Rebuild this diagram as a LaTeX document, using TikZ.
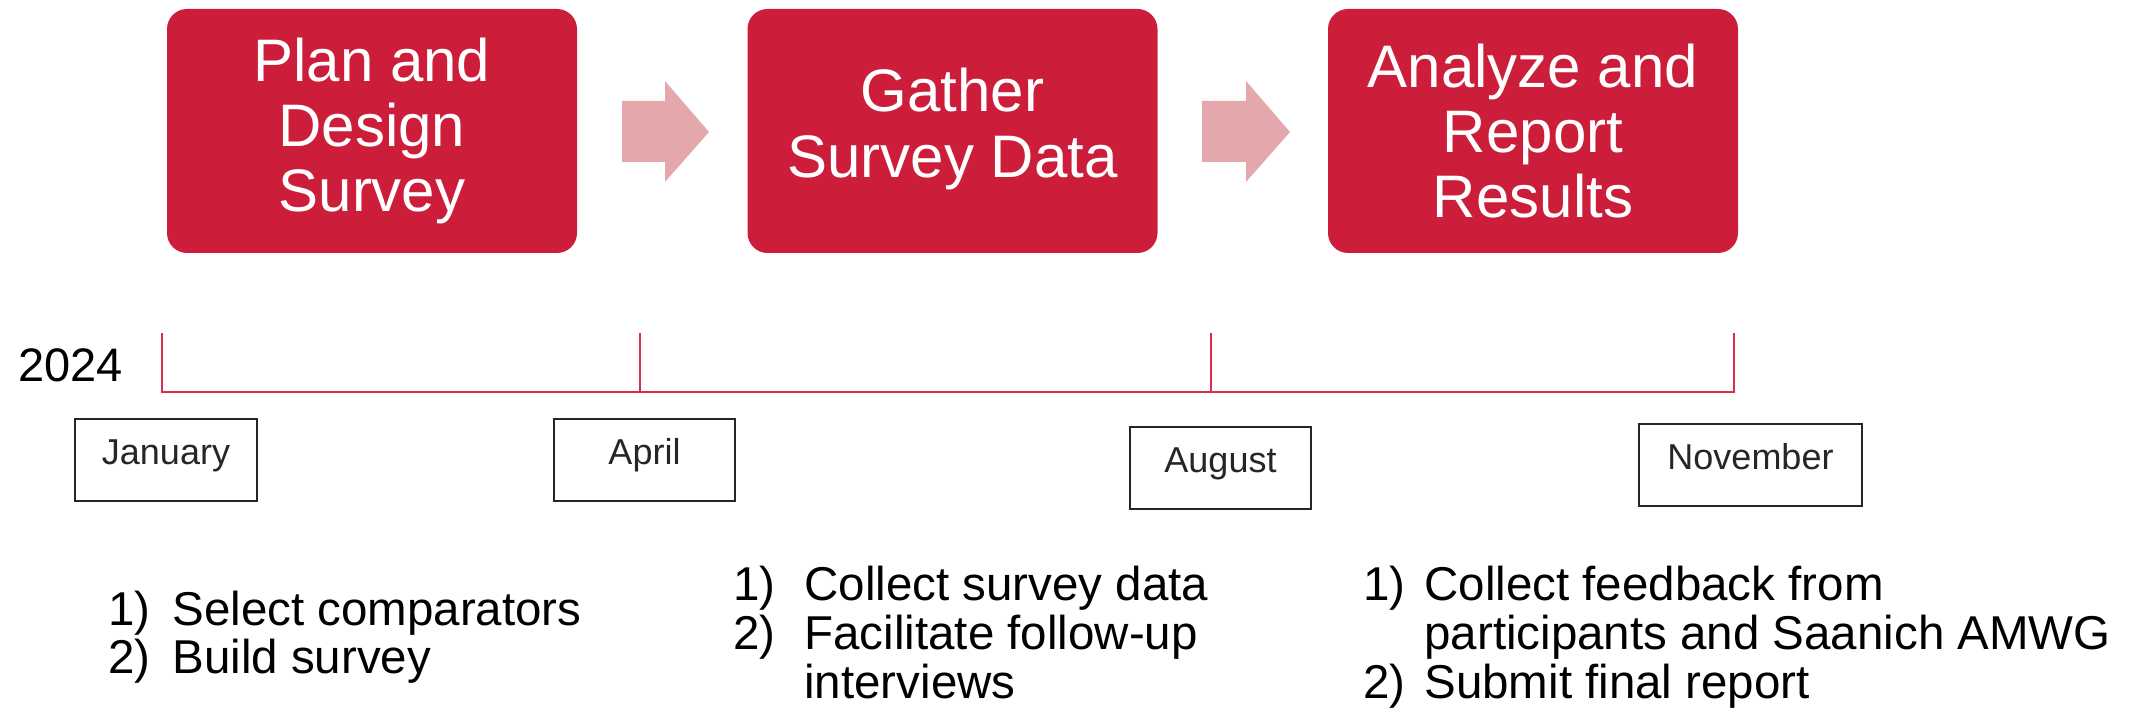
\documentclass[tikz,border=0pt]{standalone}
\usepackage{fontspec}
\setmainfont{Liberation Sans}
\definecolor{boxred}{RGB}{204,30,58}
\definecolor{arrowpink}{RGB}{228,168,172}
\definecolor{linered}{RGB}{222,45,75}
\begin{document}
\begin{tikzpicture}[x=0.5pt,y=-0.5pt,
  phase/.style={rectangle, rounded corners=10pt, fill=boxred, text=white,
    minimum width=205pt, minimum height=122pt, inner sep=0pt, align=center,
    font=\fontsize{30}{32.5}\selectfont},
  blockarrow/.style={fill=arrowpink},
  tline/.style={draw=linered, line width=1.2pt},
  monthbox/.style={draw=black!85, line width=1pt, inner sep=0pt, anchor=north west,
    text width=#1, align=center, text height=23pt, text depth=18pt,
    font=\fontsize{18}{20}\selectfont, text=black!85},
  listtext/.style={anchor=base west, inner sep=0pt, font=\fontsize{23.75}{28}\selectfont},
  yeartext/.style={anchor=base west, inner sep=0pt, font=\fontsize{23.5}{28}\selectfont}
]
\useasboundingbox (0,0) rectangle (2138,721);

% phase boxes
\node[phase] (b1) at (372,131) {Plan and\\Design\\Survey};
\node[phase, font=\fontsize{30}{33}\selectfont] (b2) at (952.5,131) {\raisebox{-3pt}{\begin{tabular}{@{}c@{}}Gather\\Survey Data\end{tabular}}};
\node[phase] (b3) at (1533,131) {Analyze and\\Report\\Results};

% block arrows
\fill[blockarrow] (622,101) -- (665,101) -- (665,81) -- (709,132) -- (665,182) -- (665,162) -- (622,162) -- cycle;
\fill[blockarrow] (1202,101) -- (1246,101) -- (1246,81) -- (1290,132) -- (1246,182) -- (1246,162) -- (1202,162) -- cycle;

% timeline
\coordinate (t1) at (162,392);
\coordinate (t2) at (640,392);
\coordinate (t3) at (1211,392);
\coordinate (t4) at (1734,392);
\coordinate (t1u) at (162,333);
\coordinate (t2u) at (640,333);
\coordinate (t3u) at (1211,333);
\coordinate (t4u) at (1734,333);
\draw[tline] (t1u) -- (t1) -- (t4) -- (t4u);
\draw[tline] (t2) -- (t2u);
\draw[tline] (t3) -- (t3u);

\node[yeartext] (year) at (18,382) {2024};

% month boxes
\node[monthbox=91pt] (jan) at (74,418) {January};
\node[monthbox=90.5pt] (apr) at (553,418) {April};
\node[monthbox=90.5pt] (aug) at (1129,426) {August};
\node[monthbox=111.5pt] (nov) at (1638,423) {November};

% lists
\node[listtext] (c1n1) at (108,625) {1)};
\node[listtext] (c1t1) at (172,625) {Select comparators};
\node[listtext] (c1n2) at (108,674) {2)};
\node[listtext] (c1t2) at (172,674) {Build survey};

\node[listtext] (c2n1) at (733,601) {1)};
\node[listtext] (c2t1) at (804,601) {Collect survey data};
\node[listtext] (c2n2) at (733,649) {2)};
\node[listtext] (c2t2) at (804,649) {Facilitate follow-up};
\node[listtext] (c2t3) at (804,698) {interviews};

\node[listtext] (c3n1) at (1363,601) {1)};
\node[listtext] (c3t1) at (1424,601) {Collect feedback from};
\node[listtext] (c3t2) at (1424,649) {participants and Saanich AMWG};
\node[listtext] (c3n2) at (1363,698) {2)};
\node[listtext] (c3t3) at (1424,698) {Submit final report};
\end{tikzpicture}
\end{document}
